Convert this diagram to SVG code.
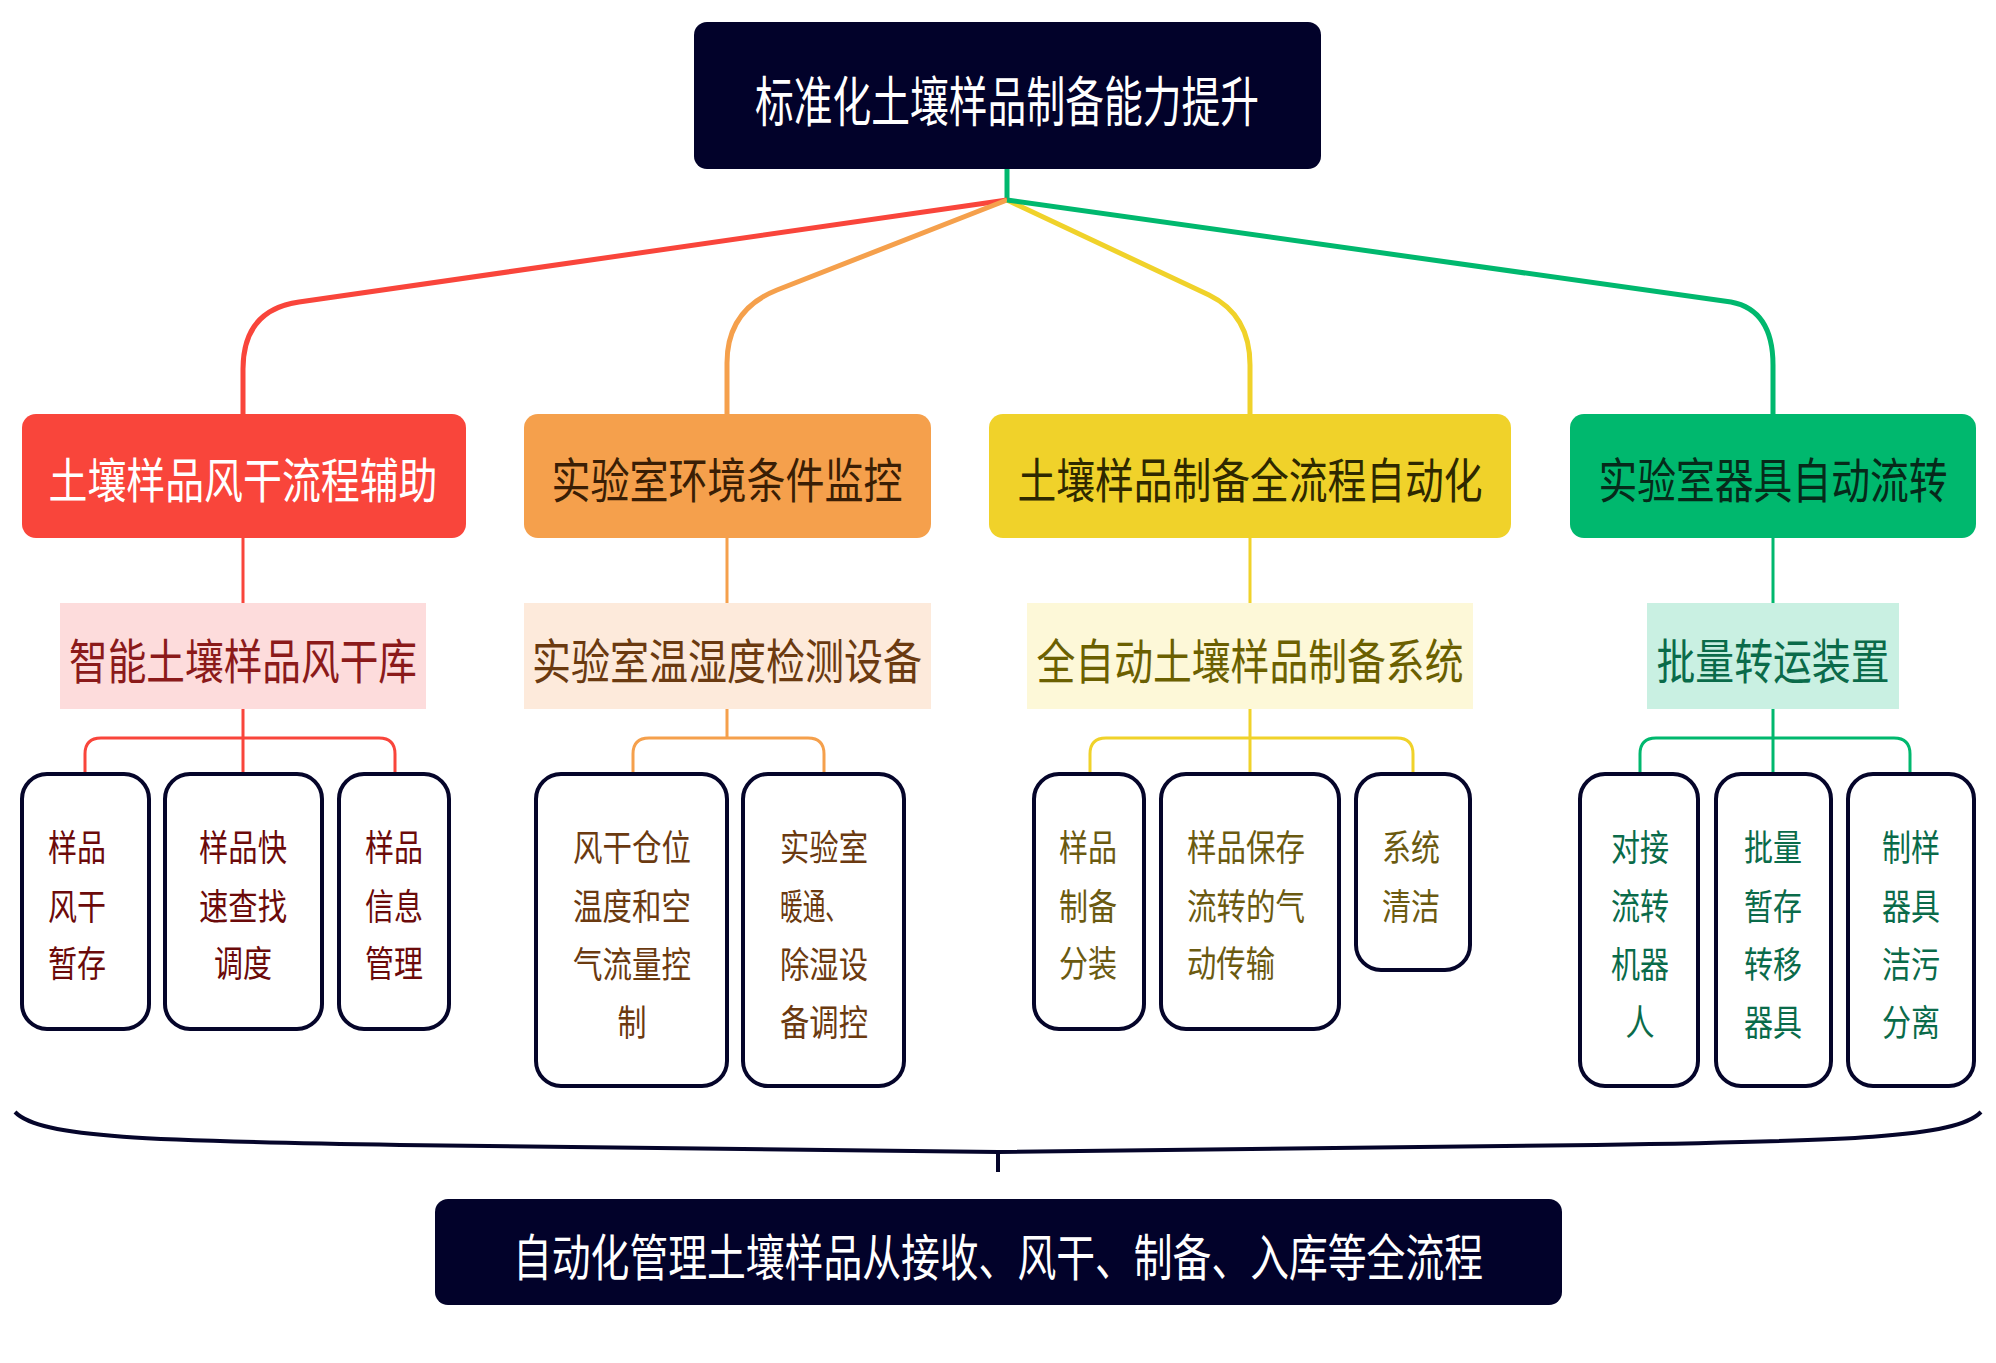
<svg xmlns="http://www.w3.org/2000/svg" width="1996" height="1363" viewBox="0 0 1996 1363">
<style>
text{font-family:"Noto Sans CJK SC","Liberation Sans",sans-serif;text-anchor:middle;dominant-baseline:central}
.leaf{fill:#fff;stroke:#05052a;stroke-width:4}
.c{fill:none}
.t1{font-size:48px}
.t2{font-size:48px}
.lf{font-size:36px}
</style>
<rect width="1996" height="1363" fill="#fff"/>
<g id="connectors" class="c" stroke-linejoin="round">
<path d="M1007,169 V200" stroke="#00b86e" stroke-width="5"/>
<path d="M1007,200 L299,302 Q243,310 243,369 V414" stroke="#f9453b" stroke-width="5"/>
<path d="M1007,200 L777,290 Q727,310 727,363 V414" stroke="#f5a04c" stroke-width="5"/>
<path d="M1007,200 L1209,295 Q1250,315 1250,365 V414" stroke="#f0d22a" stroke-width="5"/>
<path d="M1007,200 L1731,302 Q1773,310 1773,365 V414" stroke="#00b86e" stroke-width="5"/>
<g stroke-width="3">
<path d="M243,538 V603 M243,709 V800" stroke="#f9453b"/>
<path d="M85,800 V754 Q85,738 101,738 H379 Q395,738 395,754 V800" stroke="#f9453b"/>
<path d="M727,538 V603 M727,709 V738" stroke="#f5a04c"/>
<path d="M633,800 V754 Q633,738 649,738 H808 Q824,738 824,754 V800" stroke="#f5a04c"/>
<path d="M1250,538 V603 M1250,709 V800" stroke="#f0d22a"/>
<path d="M1090,800 V754 Q1090,738 1106,738 H1397 Q1413,738 1413,754 V800" stroke="#f0d22a"/>
<path d="M1773,538 V603 M1773,709 V800" stroke="#00b86e"/>
<path d="M1640,800 V754 Q1640,738 1656,738 H1894 Q1910,738 1910,754 V800" stroke="#00b86e"/>
</g>
</g>
<g id="root"><rect x="694" y="22" width="627" height="147" rx="13" fill="#02022a"/><text x="1007" y="98" font-size="54" fill="#fff" textLength="504" lengthAdjust="spacingAndGlyphs">标准化土壤样品制备能力提升</text></g>
<g id="n1"><rect x="22" y="414" width="444" height="124" rx="14" fill="#f9453b"/><text class="t1" x="243" y="477" fill="#fff" textLength="389" lengthAdjust="spacingAndGlyphs">土壤样品风干流程辅助</text></g>
<g id="n2"><rect x="524" y="414" width="407" height="124" rx="14" fill="#f5a04c"/><text class="t1" x="727" y="477" fill="#3a1e05" textLength="351" lengthAdjust="spacingAndGlyphs">实验室环境条件监控</text></g>
<g id="n3"><rect x="989" y="414" width="522" height="124" rx="14" fill="#f0d22a"/><text class="t1" x="1250" y="477" fill="#2e2800" textLength="465" lengthAdjust="spacingAndGlyphs">土壤样品制备全流程自动化</text></g>
<g id="n4"><rect x="1570" y="414" width="406" height="124" rx="14" fill="#00b86e"/><text class="t1" x="1773" y="477" fill="#062a1a" textLength="349" lengthAdjust="spacingAndGlyphs">实验室器具自动流转</text></g>
<g id="m1"><rect x="60" y="603" width="366" height="106" fill="#fddcdc"/><text class="t2" x="243" y="658" fill="#8b1a1a" textLength="348" lengthAdjust="spacingAndGlyphs">智能土壤样品风干库</text></g>
<g id="m2"><rect x="524" y="603" width="407" height="106" fill="#fdeadb"/><text class="t2" x="727" y="658" fill="#6b3a10" textLength="390" lengthAdjust="spacingAndGlyphs">实验室温湿度检测设备</text></g>
<g id="m3"><rect x="1027" y="603" width="446" height="106" fill="#fdf8d8"/><text class="t2" x="1250" y="658" fill="#6b6000" textLength="427" lengthAdjust="spacingAndGlyphs">全自动土壤样品制备系统</text></g>
<g id="m4"><rect x="1647" y="603" width="252" height="106" fill="#c9f0e2"/><text class="t2" x="1773" y="658" fill="#0a6b4a" textLength="233" lengthAdjust="spacingAndGlyphs">批量转运装置</text></g>
<g id="l1" class="lf" fill="#6b0a0a"><rect class="leaf" x="22" y="774" width="127" height="255" rx="25"/><text x="77" y="845" textLength="58" lengthAdjust="spacingAndGlyphs">样品</text><text x="77" y="904" textLength="58" lengthAdjust="spacingAndGlyphs">风干</text><text x="77" y="961" textLength="58" lengthAdjust="spacingAndGlyphs">暂存</text></g>
<g id="l2" class="lf" fill="#6b0a0a"><rect class="leaf" x="165" y="774" width="157" height="255" rx="25"/><text x="243" y="845" textLength="88" lengthAdjust="spacingAndGlyphs">样品快</text><text x="243" y="904" textLength="88" lengthAdjust="spacingAndGlyphs">速查找</text><text x="243" y="961" textLength="58" lengthAdjust="spacingAndGlyphs">调度</text></g>
<g id="l3" class="lf" fill="#6b0a0a"><rect class="leaf" x="339" y="774" width="110" height="255" rx="25"/><text x="394" y="845" textLength="58" lengthAdjust="spacingAndGlyphs">样品</text><text x="394" y="904" textLength="58" lengthAdjust="spacingAndGlyphs">信息</text><text x="394" y="961" textLength="58" lengthAdjust="spacingAndGlyphs">管理</text></g>
<g id="l4" class="lf" fill="#6b3a10"><rect class="leaf" x="536" y="774" width="191" height="312" rx="25"/><text x="632" y="845" textLength="118" lengthAdjust="spacingAndGlyphs">风干仓位</text><text x="632" y="904" textLength="118" lengthAdjust="spacingAndGlyphs">温度和空</text><text x="632" y="962" textLength="118" lengthAdjust="spacingAndGlyphs">气流量控</text><text x="632" y="1020" textLength="29" lengthAdjust="spacingAndGlyphs">制</text></g>
<g id="l5" class="lf" fill="#6b3a10"><rect class="leaf" x="743" y="774" width="161" height="312" rx="25"/><text x="824" y="845" textLength="88" lengthAdjust="spacingAndGlyphs">实验室</text><text x="814" y="904" textLength="68" lengthAdjust="spacingAndGlyphs">暖通、</text><text x="824" y="962" textLength="88" lengthAdjust="spacingAndGlyphs">除湿设</text><text x="824" y="1020" textLength="88" lengthAdjust="spacingAndGlyphs">备调控</text></g>
<g id="l6" class="lf" fill="#6b5a10"><rect class="leaf" x="1034" y="774" width="110" height="255" rx="25"/><text x="1088" y="845" textLength="58" lengthAdjust="spacingAndGlyphs">样品</text><text x="1088" y="904" textLength="58" lengthAdjust="spacingAndGlyphs">制备</text><text x="1088" y="961" textLength="58" lengthAdjust="spacingAndGlyphs">分装</text></g>
<g id="l7" class="lf" fill="#6b5a10"><rect class="leaf" x="1161" y="774" width="178" height="255" rx="25"/><text x="1246" y="845" textLength="118" lengthAdjust="spacingAndGlyphs">样品保存</text><text x="1246" y="904" textLength="118" lengthAdjust="spacingAndGlyphs">流转的气</text><text x="1231" y="961" textLength="88" lengthAdjust="spacingAndGlyphs">动传输</text></g>
<g id="l8" class="lf" fill="#6b5a10"><rect class="leaf" x="1356" y="774" width="114" height="196" rx="25"/><text x="1411" y="845" textLength="58" lengthAdjust="spacingAndGlyphs">系统</text><text x="1411" y="904" textLength="58" lengthAdjust="spacingAndGlyphs">清洁</text></g>
<g id="l9" class="lf" fill="#0a6b4a"><rect class="leaf" x="1580" y="774" width="118" height="312" rx="25"/><text x="1640" y="845" textLength="58" lengthAdjust="spacingAndGlyphs">对接</text><text x="1640" y="904" textLength="58" lengthAdjust="spacingAndGlyphs">流转</text><text x="1640" y="962" textLength="58" lengthAdjust="spacingAndGlyphs">机器</text><text x="1640" y="1020" textLength="29" lengthAdjust="spacingAndGlyphs">人</text></g>
<g id="l10" class="lf" fill="#0a6b4a"><rect class="leaf" x="1716" y="774" width="115" height="312" rx="25"/><text x="1773" y="845" textLength="58" lengthAdjust="spacingAndGlyphs">批量</text><text x="1773" y="904" textLength="58" lengthAdjust="spacingAndGlyphs">暂存</text><text x="1773" y="962" textLength="58" lengthAdjust="spacingAndGlyphs">转移</text><text x="1773" y="1020" textLength="58" lengthAdjust="spacingAndGlyphs">器具</text></g>
<g id="l11" class="lf" fill="#0a6b4a"><rect class="leaf" x="1848" y="774" width="126" height="312" rx="25"/><text x="1911" y="845" textLength="58" lengthAdjust="spacingAndGlyphs">制样</text><text x="1911" y="904" textLength="58" lengthAdjust="spacingAndGlyphs">器具</text><text x="1911" y="962" textLength="58" lengthAdjust="spacingAndGlyphs">洁污</text><text x="1911" y="1020" textLength="58" lengthAdjust="spacingAndGlyphs">分离</text></g>
<g id="brace"><path d="M15,1112 C40,1138 150,1141 400,1145 L998,1152 L1596,1145 C1846,1141 1956,1138 1981,1112 M998,1152 V1172" fill="none" stroke="#05052a" stroke-width="4"/></g>
<g id="bottom"><rect x="435" y="1199" width="1127" height="106" rx="13" fill="#02022a"/><text x="998" y="1254" font-size="50" fill="#fff" textLength="970" lengthAdjust="spacingAndGlyphs">自动化管理土壤样品从接收、风干、制备、入库等全流程</text></g>
</svg>
